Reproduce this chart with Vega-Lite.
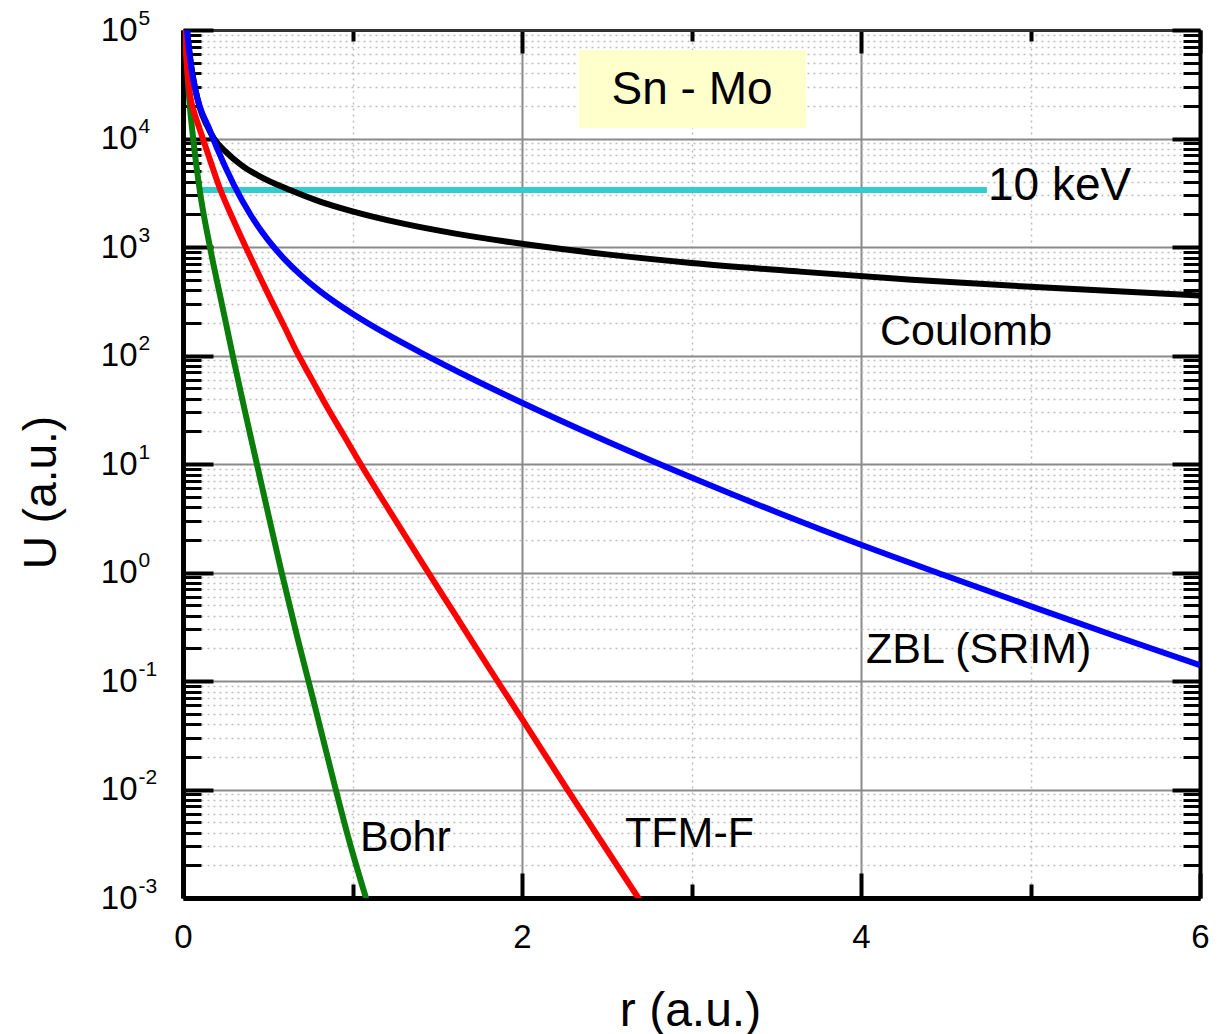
{
  "$schema": "https://vega.github.io/schema/vega-lite/v6.json",
  "width": 1017,
  "height": 868,
  "autosize": "none",
  "padding": {"left": 183, "top": 30, "right": 18, "bottom": 136},
  "background": "white",
  "config": {
    "view": {"stroke": null},
    "font": "Liberation Sans",
    "axis": {"labelFont": "Liberation Sans", "titleFont": "Liberation Sans", "labelColor": "black", "titleColor": "black", "titleFontWeight": "normal", "labelFlush": false, "labelOverlap": false, "labelBound": false, "tickColor": "black", "domainColor": "black"}
  },
  "datasets": {
    "curves": [
      {"m": "Coulomb", "r": 0.023, "U": 100000},
      {"m": "Coulomb", "r": 0.035, "U": 69500},
      {"m": "Coulomb", "r": 0.05, "U": 45000},
      {"m": "Coulomb", "r": 0.07, "U": 30000},
      {"m": "Coulomb", "r": 0.1, "U": 19000},
      {"m": "Coulomb", "r": 0.14, "U": 13300},
      {"m": "Coulomb", "r": 0.183, "U": 10000},
      {"m": "Coulomb", "r": 0.25, "U": 7600},
      {"m": "Coulomb", "r": 0.35, "U": 5600},
      {"m": "Coulomb", "r": 0.45, "U": 4500},
      {"m": "Coulomb", "r": 0.631, "U": 3350},
      {"m": "Coulomb", "r": 0.8, "U": 2650},
      {"m": "Coulomb", "r": 1.0, "U": 2130},
      {"m": "Coulomb", "r": 1.3, "U": 1640},
      {"m": "Coulomb", "r": 1.6, "U": 1335},
      {"m": "Coulomb", "r": 2.0, "U": 1070},
      {"m": "Coulomb", "r": 2.5, "U": 855},
      {"m": "Coulomb", "r": 3.0, "U": 713},
      {"m": "Coulomb", "r": 3.64, "U": 593},
      {"m": "Coulomb", "r": 4.3, "U": 500},
      {"m": "Coulomb", "r": 5.0, "U": 430},
      {"m": "Coulomb", "r": 6.0, "U": 358},
      {"m": "Bohr", "r": 0.012, "U": 100000},
      {"m": "Bohr", "r": 0.035, "U": 25100},
      {"m": "Bohr", "r": 0.061, "U": 9680},
      {"m": "Bohr", "r": 0.1, "U": 3236},
      {"m": "Bohr", "r": 0.159, "U": 1000},
      {"m": "Bohr", "r": 0.23, "U": 295},
      {"m": "Bohr", "r": 0.297, "U": 94.2},
      {"m": "Bohr", "r": 0.365, "U": 30.9},
      {"m": "Bohr", "r": 0.435, "U": 10.1},
      {"m": "Bohr", "r": 0.51, "U": 3.09},
      {"m": "Bohr", "r": 0.582, "U": 1.0},
      {"m": "Bohr", "r": 0.68, "U": 0.234},
      {"m": "Bohr", "r": 0.769, "U": 0.0668},
      {"m": "Bohr", "r": 0.877, "U": 0.0141},
      {"m": "Bohr", "r": 0.98, "U": 0.0034},
      {"m": "Bohr", "r": 1.084, "U": 0.00095},
      {"m": "TFM-F", "r": 0.012, "U": 100000},
      {"m": "TFM-F", "r": 0.02, "U": 56200},
      {"m": "TFM-F", "r": 0.03, "U": 35500},
      {"m": "TFM-F", "r": 0.045, "U": 23400},
      {"m": "TFM-F", "r": 0.07, "U": 16600},
      {"m": "TFM-F", "r": 0.1, "U": 12020},
      {"m": "TFM-F", "r": 0.16, "U": 6310},
      {"m": "TFM-F", "r": 0.22, "U": 3388},
      {"m": "TFM-F", "r": 0.3, "U": 1738},
      {"m": "TFM-F", "r": 0.37, "U": 1000},
      {"m": "TFM-F", "r": 0.45, "U": 543},
      {"m": "TFM-F", "r": 0.52, "U": 324},
      {"m": "TFM-F", "r": 0.6, "U": 182},
      {"m": "TFM-F", "r": 0.675, "U": 105},
      {"m": "TFM-F", "r": 0.76, "U": 60.3},
      {"m": "TFM-F", "r": 0.85, "U": 33.5},
      {"m": "TFM-F", "r": 0.95, "U": 18.2},
      {"m": "TFM-F", "r": 1.044, "U": 10.2},
      {"m": "TFM-F", "r": 1.2, "U": 4.12},
      {"m": "TFM-F", "r": 1.35, "U": 1.74},
      {"m": "TFM-F", "r": 1.457, "U": 0.944},
      {"m": "TFM-F", "r": 1.6, "U": 0.422},
      {"m": "TFM-F", "r": 1.8, "U": 0.136},
      {"m": "TFM-F", "r": 2.0, "U": 0.0447},
      {"m": "TFM-F", "r": 2.264, "U": 0.0102},
      {"m": "TFM-F", "r": 2.45, "U": 0.00367},
      {"m": "TFM-F", "r": 2.696, "U": 0.00095},
      {"m": "ZBL", "r": 0.024, "U": 100000},
      {"m": "ZBL", "r": 0.035, "U": 66070},
      {"m": "ZBL", "r": 0.05, "U": 43650},
      {"m": "ZBL", "r": 0.07, "U": 29500},
      {"m": "ZBL", "r": 0.1, "U": 19500},
      {"m": "ZBL", "r": 0.15, "U": 12820},
      {"m": "ZBL", "r": 0.2, "U": 8185},
      {"m": "ZBL", "r": 0.3, "U": 3741},
      {"m": "ZBL", "r": 0.4, "U": 1963},
      {"m": "ZBL", "r": 0.5, "U": 1169},
      {"m": "ZBL", "r": 0.6, "U": 769},
      {"m": "ZBL", "r": 0.7, "U": 542},
      {"m": "ZBL", "r": 0.8, "U": 401},
      {"m": "ZBL", "r": 0.9, "U": 308},
      {"m": "ZBL", "r": 1.0, "U": 243},
      {"m": "ZBL", "r": 1.2, "U": 158},
      {"m": "ZBL", "r": 1.4, "U": 107},
      {"m": "ZBL", "r": 1.7, "U": 61.7},
      {"m": "ZBL", "r": 2.0, "U": 36.7},
      {"m": "ZBL", "r": 2.5, "U": 16.2},
      {"m": "ZBL", "r": 3.0, "U": 7.5},
      {"m": "ZBL", "r": 3.5, "U": 3.61},
      {"m": "ZBL", "r": 4.0, "U": 1.8},
      {"m": "ZBL", "r": 4.5, "U": 0.933},
      {"m": "ZBL", "r": 5.0, "U": 0.49},
      {"m": "ZBL", "r": 5.5, "U": 0.26},
      {"m": "ZBL", "r": 6.0, "U": 0.14}
    ],
    "labels": [
      {"r": 4.112, "U": 163, "t": "Coulomb"},
      {"r": 4.03, "U": 0.193, "t": "ZBL (SRIM)"},
      {"r": 2.608, "U": 0.00389, "t": "TFM-F"},
      {"r": 1.044, "U": 0.00361, "t": "Bohr"}
    ],
    "box": [{"r0": 2.336, "r1": 3.676, "U0": 65420, "U1": 12500, "rc": 3.003, "Uc": 27990, "t": "Sn - Mo"}],
    "kev": [{"r0": 0.083, "r1": 4.743, "U": 3350, "rt": 4.749, "Ut": 3649, "t": "10 keV"}]
  },
  "layer": [
    {
      "data": {"name": "curves"},
      "mark": {"type": "point", "opacity": 0},
      "encoding": {
        "x": {"field": "r", "type": "quantitative", "scale": {"domain": [0, 6], "nice": false, "zero": false},
          "axis": {"orient": "bottom", "values": [1, 3, 5], "grid": true, "gridDash": [2, 4], "gridColor": "#bdbdbd", "gridWidth": 1.5, "ticks": true, "tickSize": -14, "tickWidth": 4, "labels": false, "domain": false, "title": null}},
        "y": {"field": "U", "type": "quantitative", "scale": {"type": "log", "domain": [0.001, 100000], "nice": false},
          "axis": {"orient": "left", "values": [0.002,0.003,0.004,0.005,0.006,0.007,0.008,0.009,0.02,0.03,0.04,0.05,0.06,0.07,0.08,0.09,0.2,0.3,0.4,0.5,0.6,0.7,0.8,0.9,2,3,4,5,6,7,8,9,20,30,40,50,60,70,80,90,200,300,400,500,600,700,800,900,2000,3000,4000,5000,6000,7000,8000,9000,20000,30000,40000,50000,60000,70000,80000,90000],
            "grid": true, "gridDash": [2, 4], "gridColor": "#bdbdbd", "gridWidth": 1.5, "ticks": true, "tickSize": -18, "tickWidth": 3, "labels": false, "domain": false, "title": null}}
      }
    },
    {
      "data": {"name": "curves"},
      "mark": {"type": "point", "opacity": 0},
      "encoding": {
        "x": {"field": "r", "type": "quantitative", "scale": {"domain": [0, 6], "nice": false, "zero": false},
          "axis": {"orient": "top", "values": [1, 3, 5], "grid": false, "ticks": true, "tickSize": -11, "tickWidth": 4, "labels": false, "domain": false, "title": null}},
        "y": {"field": "U", "type": "quantitative", "scale": {"type": "log", "domain": [0.001, 100000], "nice": false},
          "axis": {"orient": "right", "values": [0.002,0.003,0.004,0.005,0.006,0.007,0.008,0.009,0.02,0.03,0.04,0.05,0.06,0.07,0.08,0.09,0.2,0.3,0.4,0.5,0.6,0.7,0.8,0.9,2,3,4,5,6,7,8,9,20,30,40,50,60,70,80,90,200,300,400,500,600,700,800,900,2000,3000,4000,5000,6000,7000,8000,9000,20000,30000,40000,50000,60000,70000,80000,90000],
            "grid": false, "ticks": true, "tickSize": -17, "tickWidth": 3, "labels": false, "domain": false, "title": null}}
      }
    },
    {
      "data": {"name": "curves"},
      "mark": {"type": "point", "opacity": 0},
      "encoding": {
        "x": {"field": "r", "type": "quantitative", "scale": {"domain": [0, 6], "nice": false, "zero": false},
          "axis": {"orient": "bottom", "values": [0, 2, 4, 6], "grid": true, "gridColor": "#8a8a8a", "gridWidth": 2, "ticks": true, "tickSize": -25, "tickWidth": 4, "labels": false, "domain": true, "domainWidth": 5, "title": null}},
        "y": {"field": "U", "type": "quantitative", "scale": {"type": "log", "domain": [0.001, 100000], "nice": false},
          "axis": {"orient": "left", "values": [0.001, 0.01, 0.1, 1, 10, 100, 1000, 10000, 100000], "grid": true, "gridColor": "#8a8a8a", "gridWidth": 2, "ticks": true, "tickSize": -30, "tickWidth": 4, "labels": false, "domain": true, "domainWidth": 5, "title": null}}
      }
    },
    {
      "data": {"name": "curves"},
      "mark": {"type": "point", "opacity": 0},
      "encoding": {
        "x": {"field": "r", "type": "quantitative", "scale": {"domain": [0, 6], "nice": false, "zero": false},
          "axis": {"orient": "top", "values": [0, 2, 4, 6], "grid": false, "ticks": true, "tickSize": -23, "tickWidth": 4, "labels": false, "domain": true, "domainWidth": 3, "domainColor": "#333333", "title": null}},
        "y": {"field": "U", "type": "quantitative", "scale": {"type": "log", "domain": [0.001, 100000], "nice": false},
          "axis": {"orient": "right", "values": [0.001, 0.01, 0.1, 1, 10, 100, 1000, 10000, 100000], "grid": false, "ticks": true, "tickSize": -28, "tickWidth": 4, "labels": false, "domain": true, "domainWidth": 4, "title": null}}
      }
    },
    {
      "data": {"name": "curves"},
      "mark": {"type": "point", "opacity": 0},
      "encoding": {
        "x": {"field": "r", "type": "quantitative", "scale": {"domain": [0, 6], "nice": false, "zero": false},
          "axis": {"orient": "bottom", "values": [0, 2, 4, 6], "grid": false, "ticks": false, "domain": false, "labelFontSize": 33, "labelPadding": 23,
            "title": "r (a.u.)", "titleFontSize": 48, "titleX": 507, "titleY": 127, "titleBaseline": "alphabetic", "titleAlign": "center"}},
        "y": {"field": "U", "type": "quantitative", "scale": {"type": "log", "domain": [0.001, 100000], "nice": false},
          "axis": {"orient": "left", "values": [0.001, 0.01, 0.1, 1, 10, 100, 1000, 10000, 100000], "grid": false, "ticks": false, "domain": false,
            "labelExpr": "'10'", "labelFontSize": 33, "labelPadding": 46,
            "title": "U (a.u.)", "titleFontSize": 46, "titleX": -128, "titleY": 462, "titleAngle": -90, "titleBaseline": "alphabetic", "titleAlign": "center"}}
      }
    },
    {
      "data": {"name": "curves"},
      "mark": {"type": "point", "opacity": 0},
      "encoding": {
        "x": {"field": "r", "type": "quantitative", "scale": {"domain": [0, 6], "nice": false, "zero": false}, "axis": null},
        "y": {"field": "U", "type": "quantitative", "scale": {"type": "log", "domain": [0.001, 100000], "nice": false},
          "axis": {"orient": "left", "values": [0.001, 0.01, 0.1, 1, 10, 100, 1000, 10000, 100000], "grid": false, "ticks": false, "domain": false,
            "labelExpr": "'' + round(log(datum.value) / LN10)", "labelFontSize": 21, "labelAlign": "left", "labelPadding": 45, "labelOffset": -12, "title": null}}
      }
    },
    {
      "data": {"name": "box"},
      "mark": {"type": "rect", "color": "#FFFFCC"},
      "encoding": {
        "x": {"field": "r0", "type": "quantitative", "scale": {"domain": [0, 6], "nice": false, "zero": false}, "axis": null},
        "x2": {"field": "r1"},
        "y": {"field": "U0", "type": "quantitative", "scale": {"type": "log", "domain": [0.001, 100000], "nice": false}, "axis": null},
        "y2": {"field": "U1"}
      }
    },
    {
      "data": {"name": "box"},
      "mark": {"type": "text", "fontSize": 46, "font": "Liberation Sans", "align": "center", "baseline": "middle", "color": "black"},
      "encoding": {
        "x": {"field": "rc", "type": "quantitative", "scale": {"domain": [0, 6], "nice": false, "zero": false}, "axis": null},
        "y": {"field": "Uc", "type": "quantitative", "scale": {"type": "log", "domain": [0.001, 100000], "nice": false}, "axis": null},
        "text": {"field": "t"}
      }
    },
    {
      "data": {"name": "kev"},
      "mark": {"type": "rule", "color": "#33CCCC", "strokeWidth": 6},
      "encoding": {
        "x": {"field": "r0", "type": "quantitative", "scale": {"domain": [0, 6], "nice": false, "zero": false}, "axis": null},
        "x2": {"field": "r1"},
        "y": {"field": "U", "type": "quantitative", "scale": {"type": "log", "domain": [0.001, 100000], "nice": false}, "axis": null}
      }
    },
    {
      "data": {"name": "kev"},
      "mark": {"type": "text", "fontSize": 46, "font": "Liberation Sans", "align": "left", "baseline": "middle", "color": "black"},
      "encoding": {
        "x": {"field": "rt", "type": "quantitative", "scale": {"domain": [0, 6], "nice": false, "zero": false}, "axis": null},
        "y": {"field": "Ut", "type": "quantitative", "scale": {"type": "log", "domain": [0.001, 100000], "nice": false}, "axis": null},
        "text": {"field": "t"}
      }
    },
    {
      "data": {"name": "curves"},
      "mark": {"type": "line", "strokeWidth": 6, "clip": true, "interpolate": "monotone"},
      "encoding": {
        "x": {"field": "r", "type": "quantitative", "scale": {"domain": [0, 6], "nice": false, "zero": false}, "axis": null},
        "y": {"field": "U", "type": "quantitative", "scale": {"type": "log", "domain": [0.001, 100000], "nice": false}, "axis": null},
        "color": {"field": "m", "type": "nominal", "scale": {"domain": ["Coulomb", "Bohr", "TFM-F", "ZBL"], "range": ["#000000", "#0A7D0A", "#FF0000", "#0000FF"]}, "legend": null}
      }
    },
    {
      "data": {"name": "labels"},
      "mark": {"type": "text", "fontSize": 43, "font": "Liberation Sans", "align": "left", "baseline": "middle", "color": "black"},
      "encoding": {
        "x": {"field": "r", "type": "quantitative", "scale": {"domain": [0, 6], "nice": false, "zero": false}, "axis": null},
        "y": {"field": "U", "type": "quantitative", "scale": {"type": "log", "domain": [0.001, 100000], "nice": false}, "axis": null},
        "text": {"field": "t"}
      }
    }
  ],
  "resolve": {"axis": {"x": "independent", "y": "independent"}}
}
